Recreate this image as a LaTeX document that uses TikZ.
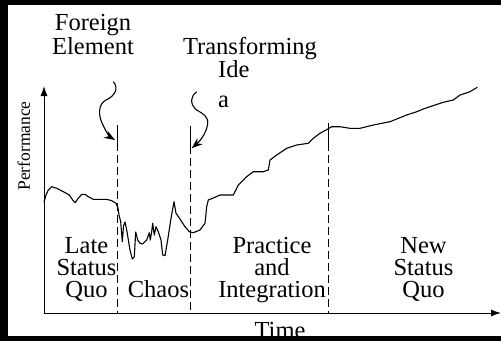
\documentclass[tikz,border=0pt]{standalone}
\usepackage{fontspec}
\setmainfont{Liberation Serif}
\usepackage{tikz}
\usetikzlibrary{shapes,arrows,arrows.meta}
\tikzstyle{lbl} = [draw=none, inner sep=0pt, align=center, anchor=base, font=\fontsize{24.5}{22}\selectfont]
\tikzstyle{invis} = [draw=none, inner sep=0pt]
\tikzstyle{axis} = [line width=1pt, -{Latex[length=10pt,width=7pt]}]
\tikzstyle{phase} = [line width=1pt]
\tikzstyle{gaps} = [line width=1pt, dash pattern=on 8pt off 4pt]
\tikzstyle{curly} = [line width=1.1pt, -{Stealth[length=11pt,width=8pt]}]

\begin{document}
\begin{tikzpicture}[x=1pt,y=-1pt]
\useasboundingbox (0,0) rectangle (501,341);

% axes
\coordinate (o) at (44,313);
\coordinate (ytop) at (44,86);
\coordinate (xend) at (501,313);
\draw[axis] (o) -- (ytop);
\draw[axis] (o) -- (xend);

\node[lbl, rotate=90, font=\fontsize{17.5}{17.5}\selectfont] (perf) at (30,146) {Performance};
\node[lbl] (time) at (280,338) {Time};

% phase borders
\coordinate (p1) at (117,125);
\coordinate (p1m) at (117,143);
\coordinate (p1b) at (117,313);
\coordinate (p2) at (190,126);
\coordinate (p2m) at (190,146);
\coordinate (p2b) at (190,313);
\coordinate (p3) at (328,123);
\coordinate (p3m) at (328,143);
\coordinate (p3b) at (328,313);

\draw[phase] (p1) -- (p1m);
\draw[gaps] (p1m) -- (p1b);
\draw[phase] (p2) -- (p2m);
\draw[gaps] (p2m) -- (p2b);
\draw[phase] (p3) -- (p3m);
\draw[gaps] (p3m) -- (p3b);

% performance curve
\draw[line width=1.1pt, line join=round] plot coordinates {
(44,202) (46,195) (48.3,190) (51.7,186.7) (56.7,188.3) (63.3,191.7) (69.3,195)
(72.7,200) (75,202.7) (78.3,198.3) (81.7,194.3) (85,194.3) (88.3,196.7) (93.3,199.3)
(106.7,199.3) (111.7,200.7) (116,203.3) (118,208) (119,215) (120.7,221.7) (122.3,241.7)
(123.5,226) (125,222) (126.7,230) (130,250) (132.3,259) (134.3,256.7) (135.7,232)
(137.7,240) (140,243.3) (142.7,244) (146.7,240) (149.3,232.7) (150.3,240) (151.7,231.7)
(152.7,223.3) (154.3,235) (156,226.7) (158.3,231.7) (161,240) (162.7,255) (165,255.7)
(167.7,240) (171,218.3) (174,201.7) (176,213.3) (180,219) (185,226.7) (189.3,231.7)
(193.3,232.7) (200,230) (205,223.3) (206.7,206.7) (208.3,200) (213.3,198) (220,195)
(233.3,195) (238.3,185) (246.7,176.7) (253.3,171.7) (263.3,171.7) (268.3,170) (270,160)
(276.7,155) (286.7,148.3) (296.7,145) (308.3,143.3) (313.3,138.3) (320,133.3) (327.3,129.3)
(331.7,126.7) (340,126.7) (350,128.3) (360,128.3) (373.3,125) (390,121.7) (406.7,115)
(416.7,111.7) (423.3,109) (435,105) (443.3,102.3) (453.3,100) (460,95) (470,91.7) (477.3,87.3)};

% events
\node[lbl] (foreign) at (93,54) {Foreign\\Element};
\node[lbl] (transf) at (250,54) {Transforming};
\node[lbl, anchor=base west] (ide) at (218,77) {Ide};
\node[lbl, anchor=base west] (ideA) at (218,107) {a};

\coordinate (fTail) at (113.3,81.7);
\coordinate (fTip) at (115,140);
\coordinate (tTail) at (196.7,91.7);
\coordinate (tTip) at (191.7,148.3);

\draw[curly] (fTail) .. controls (119,88) and (115,96) .. (106,100)
  .. controls (98,104) and (98,116) .. (103,125)
  .. controls (106,132) and (110,137) .. (fTip);
\draw[curly] (tTail) .. controls (191,95) and (189,104) .. (196.7,110)
  .. controls (203,114) and (209,116) .. (207.5,125)
  .. controls (206,134) and (199,142) .. (tTip);

% phases
\node[lbl] (late) at (86.5,297) {Late\\Status\\Quo};
\node[lbl] (chaos) at (158.5,297) {Chaos};
\node[lbl] (pract) at (272,297) {Practice\\and\\Integration};
\node[lbl] (newsq) at (423.5,297) {New\\Status\\Quo};

% frame
\fill[black] (0,0) rectangle (501,5);
\fill[black] (0,0) rectangle (8,341);
\fill[black] (0,336) rectangle (501,341);

\end{tikzpicture}
\end{document}
